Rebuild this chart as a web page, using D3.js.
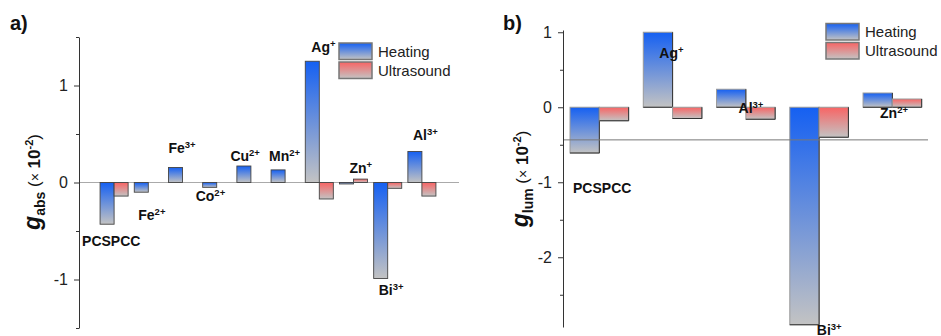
<!DOCTYPE html>
<html>
<head>
<meta charset="utf-8">
<script src="https://cdn.jsdelivr.net/npm/d3@7"></script>
<style>
  html, body { margin: 0; padding: 0; background: #fff; }
  svg { display: block; font-family: "Liberation Sans", Arial, sans-serif; }
</style>
</head>
<body>
<svg id="chart" width="941" height="336"></svg>
<script>
// ---- Panel a: absorption dissymmetry factor ----
const absCategories = ["PCSPCC", "Fe2+", "Fe3+", "Co2+", "Cu2+", "Mn2+", "Ag+", "Zn+", "Bi3+", "Al3+"];
const absLabelBase  = ["PCSPCC", "Fe", "Fe", "Co", "Cu", "Mn", "Ag", "Zn", "Bi", "Al"];
const absLabelSup   = ["", "2+", "3+", "2+", "2+", "2+", "+", "+", "3+", "3+"];
const absHeating    = [-0.43, -0.10, 0.155, -0.05, 0.17, 0.13, 1.25, -0.015, -0.99, 0.32];
const absUltrasound = [-0.14, null, null, null, null, null, -0.17, 0.035, -0.06, -0.14];
const absMajorTicks = [-1, 0, 1];
const absMinorTicks = [-1.5, -0.5, 0.5, 1.5];

// ---- Panel b: luminescence dissymmetry factor ----
const lumCategories = ["PCSPCC", "Ag+", "Al3+", "Bi3+", "Zn2+"];
const lumLabelBase  = ["PCSPCC", "Ag", "Al", "Bi", "Zn"];
const lumLabelSup   = ["", "+", "3+", "3+", "2+"];
const lumHeating    = [-0.61, 1.0, 0.24, -2.9, 0.19];
const lumUltrasound = [-0.18, -0.15, -0.16, -0.4, 0.11];
const lumRefLine    = -0.435;
const lumMajorTicks = [-2, -1, 0, 1];
const lumMinorTicks = [-2.5, -1.5, -0.5, 0.5];

const seriesNames = ["Heating", "Ultrasound"];

const svg = d3.select("#chart");
const FONT = "'Liberation Sans', Arial, sans-serif";

// gradients: coloured at the top, fading to grey at the bottom
const defs = svg.append("defs");
function gradient(id, top, bottom) {
  const g = defs.append("linearGradient").attr("id", id)
    .attr("x1", 0).attr("y1", 0).attr("x2", 0).attr("y2", 1);
  g.append("stop").attr("offset", "0%").attr("stop-color", top);
  g.append("stop").attr("offset", "100%").attr("stop-color", bottom);
}
gradient("gradHeat", "#1560f2", "#c3c3c3");
gradient("gradUltra", "#f86464", "#c3c3c3");
const fills = ["url(#gradHeat)", "url(#gradUltra)"];

function drawAxis(x0, y, major, minor) {
  const g = svg.append("g").attr("transform", `translate(${x0},0)`);
  g.call(d3.axisLeft(y).tickValues(major).tickSize(5).tickSizeOuter(0).tickPadding(6)
    .tickFormat(d => d < 0 ? "-" + Math.abs(d) : d));
  g.select(".domain").attr("stroke", "#333");
  g.selectAll(".tick line").attr("stroke", "#333");
  g.selectAll(".tick text").attr("font-size", 16).attr("fill", "#222")
    .attr("font-family", FONT);
  const gm = svg.append("g").attr("transform", `translate(${x0},0)`);
  gm.call(d3.axisLeft(y).tickValues(minor).tickSize(3).tickFormat(""));
  gm.select(".domain").remove();
  gm.selectAll(".tick line").attr("stroke", "#333");
}

function yLabel(cx, cy, sub) {
  const t = svg.append("text")
    .attr("transform", `translate(${cx},${cy}) rotate(-90)`)
    .attr("text-anchor", "middle").attr("fill", "#111").attr("font-family", FONT);
  t.append("tspan").text("g").attr("font-size", 23).attr("font-weight", "bold").attr("font-style", "italic");
  t.append("tspan").text(sub).attr("font-size", 14).attr("font-weight", "bold").attr("dy", 5);
  t.append("tspan").text(" (").attr("font-size", 17).attr("dy", -5);
  t.append("tspan").text("\u00d7").attr("font-size", 14);
  t.append("tspan").text(" 10").attr("font-size", 17).attr("font-weight", "bold");
  t.append("tspan").text("-2").attr("font-size", 11).attr("font-weight", "bold").attr("dy", -7);
  t.append("tspan").text(")").attr("font-size", 17).attr("dy", 7);
}

function barLabel(x, y, base, sup) {
  const t = svg.append("text").attr("x", x).attr("y", y)
    .attr("font-size", 14).attr("font-weight", "bold").attr("fill", "#111")
    .attr("font-family", FONT);
  t.append("tspan").text(base);
  if (sup) t.append("tspan").text(sup).attr("font-size", 9.5).attr("dy", -5);
}

function legend(x, y) {
  seriesNames.forEach((name, i) => {
    svg.append("rect").attr("x", x).attr("y", y + i * 19).attr("width", 33).attr("height", 16.5)
      .attr("fill", fills[i]).attr("stroke", "#777").attr("stroke-width", 1.5);
    svg.append("text").attr("x", x + 39).attr("y", y + i * 19 + 13.5)
      .attr("font-size", 15).attr("fill", "#222").attr("font-family", FONT).text(name);
  });
}

// ================= Panel a =================
{
  const yA = d3.scaleLinear().domain([-1.5, 1.5]).range([328, 37]);
  const xA = d3.scaleBand().domain(absCategories).range([97, 439]).paddingInner(0.18).paddingOuter(0.09);
  const bw = xA.bandwidth() / 2;

  // zero line
  svg.append("line").attr("x1", 79).attr("x2", 459).attr("y1", yA(0)).attr("y2", yA(0))
    .attr("stroke", "#aaa").attr("stroke-width", 1);

  [absHeating, absUltrasound].forEach((vals, s) => {
    svg.append("g").selectAll("rect")
      .data(absCategories.map((c, i) => ({ c, v: vals[i] })).filter(d => d.v !== null))
      .join("rect")
      .attr("x", d => xA(d.c) + s * bw)
      .attr("y", d => yA(Math.max(0, d.v)))
      .attr("width", bw)
      .attr("height", d => Math.abs(yA(d.v) - yA(0)))
      .attr("fill", fills[s]).attr("stroke", "#444").attr("stroke-width", 0.9);
  });

  drawAxis(79, yA, absMajorTicks, absMinorTicks);
  yLabel(40, 182, "abs");

  // label placement: [dx from band start (px), y in data units]
  const absLabelPos = [[-18, -0.65], [4, -0.385], [0, 0.30], [-7, -0.19], [-6.5, 0.22],
                       [-2, 0.22], [6, 1.35], [10, 0.10], [5, -1.155], [5, 0.44]];
  absCategories.forEach((c, i) => {
    barLabel(xA(c) + absLabelPos[i][0], yA(absLabelPos[i][1]), absLabelBase[i], absLabelSup[i]);
  });

  legend(339, 43);
  svg.append("text").attr("x", 10).attr("y", 30).attr("font-size", 20).attr("font-weight", "bold")
    .attr("font-family", FONT).attr("fill", "#111").text("a)");
}

// ================= Panel b =================
{
  const yB = d3.scaleLinear().domain([-2.93, 1.03]).range([327, 30]);
  const xB = d3.scaleBand().domain(lumCategories).range([562.7, 929]).paddingInner(0.2).paddingOuter(0.1);
  const bw = xB.bandwidth() / 2;

  [lumHeating, lumUltrasound].forEach((vals, s) => {
    const data = lumCategories.map((c, i) => ({ c, v: vals[i] }));
    const g = svg.append("g");
    g.selectAll("rect").data(data).join("rect")
      .attr("x", d => xB(d.c) + s * bw)
      .attr("y", d => yB(Math.max(0, d.v)))
      .attr("width", bw)
      .attr("height", d => Math.abs(yB(d.v) - yB(0)))
      .attr("fill", fills[s]).attr("stroke", "#999").attr("stroke-width", 1);
    // darker right and bottom edges
    g.selectAll("path").data(data).join("path")
      .attr("d", d => {
        const x1 = xB(d.c) + s * bw + bw;
        const yt = yB(Math.max(0, d.v)), yb = yB(Math.min(0, d.v));
        return `M${x1},${yt}V${yb}H${x1 - bw}`;
      })
      .attr("fill", "none").attr("stroke", "#333").attr("stroke-width", 1);
  });

  // reference level drawn over the bars
  svg.append("line").attr("x1", 563).attr("x2", 928).attr("y1", yB(lumRefLine)).attr("y2", yB(lumRefLine))
    .attr("stroke", "#777").attr("stroke-width", 1);

  drawAxis(563, yB, lumMajorTicks, lumMinorTicks);
  yLabel(528, 179, "lum");

  const lumLabelPos = [[3, -1.147], [16, 0.657], [22, -0.076], [27, -3.03], [17, -0.143]];
  lumCategories.forEach((c, i) => {
    barLabel(xB(c) + lumLabelPos[i][0], yB(lumLabelPos[i][1]), lumLabelBase[i], lumLabelSup[i]);
  });

  legend(826, 23.5);
  svg.append("text").attr("x", 503).attr("y", 30).attr("font-size", 20).attr("font-weight", "bold")
    .attr("font-family", FONT).attr("fill", "#111").text("b)");
}
</script>
</body>
</html>
